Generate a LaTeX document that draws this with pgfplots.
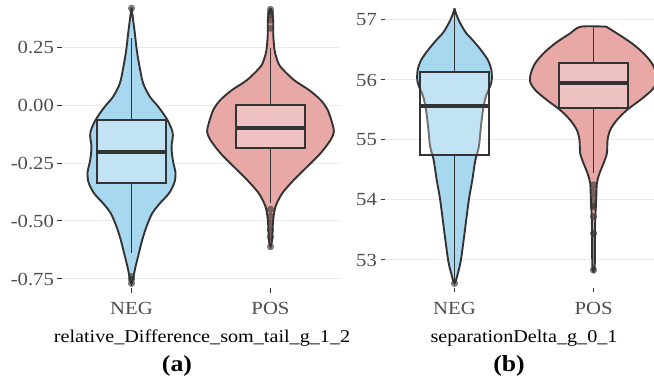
\documentclass[border=0pt]{standalone}
\usepackage{fontspec}
\setmainfont{Liberation Serif}[FakeStretch=1.12]
\usepackage{pgfplots}
\pgfplotsset{compat=1.18}
\definecolor{negfill}{RGB}{168,216,240}
\definecolor{posfill}{RGB}{232,168,165}
\definecolor{dk}{RGB}{51,51,51}
\definecolor{tk}{RGB}{77,77,77}
\definecolor{gridc}{RGB}{235,235,235}
\pgfplotsset{
  vstyle/.style={scale only axis, axis x line*=bottom, axis y line*=left,
    axis line style={draw=none}, xmin=0.5, xtick={1,2}, xticklabels={NEG,POS},
    ymajorgrids, xmajorgrids=false, grid style={gridc, line width=1pt},
    tick align=outside, major tick length=4.5pt, tick style={dk, line width=1pt},
    ticklabel style={font=\fontsize{18.5}{20}\selectfont, text=tk},
    xticklabel style={yshift=-6pt},
    clip=false, height=288pt, anchor=south west},
  viol/.style={smooth, tension=0.5, line width=1.9pt, draw=dk, mark=none},
  boxs/.style={line width=2pt, draw=dk, fill=white, fill opacity=0.3, mark=none},
  medn/.style={line width=4pt, draw=dk, mark=none},
  whis/.style={line width=1.8pt, draw=dk, mark=none},
  outl/.style={only marks, mark=*, mark size=3.3pt, draw=dk, fill=dk, opacity=0.6},
}
\begin{document}
\begin{tikzpicture}
\useasboundingbox (0,0) rectangle (654pt,378pt);
% ---------------- panel (a)
\begin{axis}[vstyle, at={(62pt,90pt)}, width=278pt, xmax=2.5,
  ymin=-0.7888, ymax=0.4526,
  ytick={-0.75,-0.5,-0.25,0,0.25}, yticklabels={-0.75,-0.50,-0.25,0.00,0.25}]
\addplot[viol, fill=negfill] table[x expr=1+\thisrow{w}, y=y] {
y w
0.421 0
0.366 0.012
0.309 0.024
0.237 0.038
0.165 0.058
0.093 0.084
0.036 0.132
-0.007 0.192
-0.065 0.259
-0.122 0.297
-0.180 0.288
-0.237 0.297
-0.294 0.317
-0.337 0.307
-0.381 0.269
-0.424 0.204
-0.467 0.149
-0.524 0.108
-0.582 0.077
-0.639 0.053
-0.697 0.029
-0.740 0.014
-0.772 0
-0.740 -0.014
-0.697 -0.029
-0.639 -0.053
-0.582 -0.077
-0.524 -0.108
-0.467 -0.149
-0.424 -0.204
-0.381 -0.269
-0.337 -0.307
-0.294 -0.317
-0.237 -0.297
-0.180 -0.288
-0.122 -0.297
-0.065 -0.259
-0.007 -0.192
0.036 -0.132
0.093 -0.084
0.165 -0.058
0.237 -0.038
0.309 -0.024
0.366 -0.012
0.421 0
};
\addplot[viol, fill=posfill] table[x expr=2+\thisrow{w}, y=y] {
y w
0.418 0
0.390 0.015
0.350 0.020
0.300 0.020
0.237 0.029
0.200 0.045
0.165 0.072
0.108 0.168
0.065 0.276
0.022 0.360
-0.022 0.412
-0.079 0.444
-0.115 0.456
-0.151 0.432
-0.208 0.360
-0.266 0.264
-0.323 0.168
-0.381 0.084
-0.438 0.036
-0.496 0.019
-0.553 0.014
-0.590 0.010
-0.611 0
-0.590 -0.010
-0.553 -0.014
-0.496 -0.019
-0.438 -0.036
-0.381 -0.084
-0.323 -0.168
-0.266 -0.264
-0.208 -0.360
-0.151 -0.432
-0.115 -0.456
-0.079 -0.444
-0.022 -0.412
0.022 -0.360
0.065 -0.276
0.108 -0.168
0.165 -0.072
0.200 -0.045
0.237 -0.029
0.300 -0.020
0.350 -0.020
0.390 -0.015
0.418 0
};
% NEG box
\addplot[whis] coordinates {(1,-0.065) (1,0.287)};
\addplot[whis] coordinates {(1,-0.335) (1,-0.639)};
\addplot[boxs] coordinates {(0.75,-0.335) (1.25,-0.335) (1.25,-0.065) (0.75,-0.065)} -- cycle;
\addplot[medn] coordinates {(0.75,-0.201) (1.25,-0.201)};
% POS box
\addplot[whis] coordinates {(2,0.0) (2,0.244)};
\addplot[whis] coordinates {(2,-0.187) (2,-0.424)};
\addplot[boxs] coordinates {(1.75,-0.187) (2.25,-0.187) (2.25,0.0) (1.75,0.0)} -- cycle;
\addplot[medn] coordinates {(1.75,-0.098) (2.25,-0.098)};
\addplot[outl] coordinates {(1,0.417) (1,-0.740) (1,-0.752) (1,-0.769)
  (2,0.412) (2,0.400) (2,0.390) (2,0.366) (2,0.331)
  (2,-0.45) (2,-0.48) (2,-0.51) (2,-0.54) (2,-0.57) (2,-0.611)};
\end{axis}
% ---------------- panel (b)
\begin{axis}[vstyle, at={(385pt,90pt)}, width=269pt, xmax=2.435,
  ymin=52.5333, ymax=57.3333,
  ytick={53,54,55,56,57}, yticklabels={53,54,55,56,57}]
\addplot[viol, fill=negfill] table[x expr=1+\thisrow{w}, y=y] {
y w
57.194 0
57.111 0.010
57.0 0.030
56.889 0.055
56.778 0.085
56.667 0.13
56.5 0.19
56.333 0.24
56.167 0.265
56.0 0.268
55.889 0.255
55.722 0.225
55.5 0.205
55.222 0.19
54.889 0.175
54.667 0.150
54.333 0.128
54.0 0.103
53.444 0.072
53.0 0.046
52.778 0.024
52.611 0
52.778 -0.024
53.0 -0.046
53.444 -0.072
54.0 -0.103
54.333 -0.128
54.667 -0.150
54.889 -0.175
55.222 -0.19
55.5 -0.205
55.722 -0.225
55.889 -0.255
56.0 -0.268
56.167 -0.265
56.333 -0.24
56.5 -0.19
56.667 -0.13
56.778 -0.085
56.889 -0.055
57.0 -0.030
57.111 -0.010
57.194 0
};
\addplot[viol, fill=posfill] table[x expr=2+\thisrow{w}, y=y] {
y w
56.889 0.091
56.778 0.168
56.611 0.276
56.444 0.360
56.278 0.420
56.111 0.451
55.972 0.456
55.833 0.420
55.667 0.336
55.5 0.240
55.333 0.168
55.167 0.120
55.0 0.101
54.778 0.096
54.611 0.072
54.444 0.043
54.278 0.024
54.0 0.019
53.778 0.014
53.444 0.010
53.111 0.010
52.833 0.007
52.833 -0.007
53.111 -0.010
53.444 -0.010
53.778 -0.014
54.0 -0.019
54.278 -0.024
54.444 -0.043
54.611 -0.072
54.778 -0.096
55.0 -0.101
55.167 -0.120
55.333 -0.168
55.5 -0.240
55.667 -0.336
55.833 -0.420
55.972 -0.456
56.111 -0.451
56.278 -0.420
56.444 -0.360
56.611 -0.276
56.778 -0.168
56.889 -0.091
56.889 0.091
};
\addplot[whis] coordinates {(1,56.14) (1,57.19)};
\addplot[whis] coordinates {(1,54.745) (1,52.61)};
\addplot[boxs] coordinates {(0.75,54.745) (1.25,54.745) (1.25,56.14) (0.75,56.14)} -- cycle;
\addplot[medn] coordinates {(0.75,55.567) (1.25,55.567)};
\addplot[whis] coordinates {(2,56.278) (2,56.889)};
\addplot[whis] coordinates {(2,55.528) (2,54.444)};
\addplot[boxs] coordinates {(1.75,55.528) (2.25,55.528) (2.25,56.278) (1.75,56.278)} -- cycle;
\addplot[medn] coordinates {(1.75,55.944) (2.25,55.944)};
\addplot[outl] coordinates {(1,52.61)
  (2,54.25) (2,54.139) (2,54.028) (2,53.917) (2,53.889) (2,53.722) (2,53.444) (2,52.833)};
\end{axis}
% ---------------- titles
\node[anchor=base, font=\fontsize{18}{20}\selectfont, inner sep=0pt] at (202pt,35pt) {relative\_Difference\_som\_tail\_g\_1\_2};
\node[anchor=base, font=\fontsize{18}{20}\selectfont, inner sep=0pt] at (524pt,35pt) {separationDelta\_g\_0\_1};
\node[anchor=base, font=\fontsize{23}{25}\selectfont\bfseries, inner sep=0pt] at (177pt,7pt) {(a)};
\node[anchor=base, font=\fontsize{23}{25}\selectfont\bfseries, inner sep=0pt] at (509pt,7pt) {(b)};
\end{tikzpicture}
\end{document}
